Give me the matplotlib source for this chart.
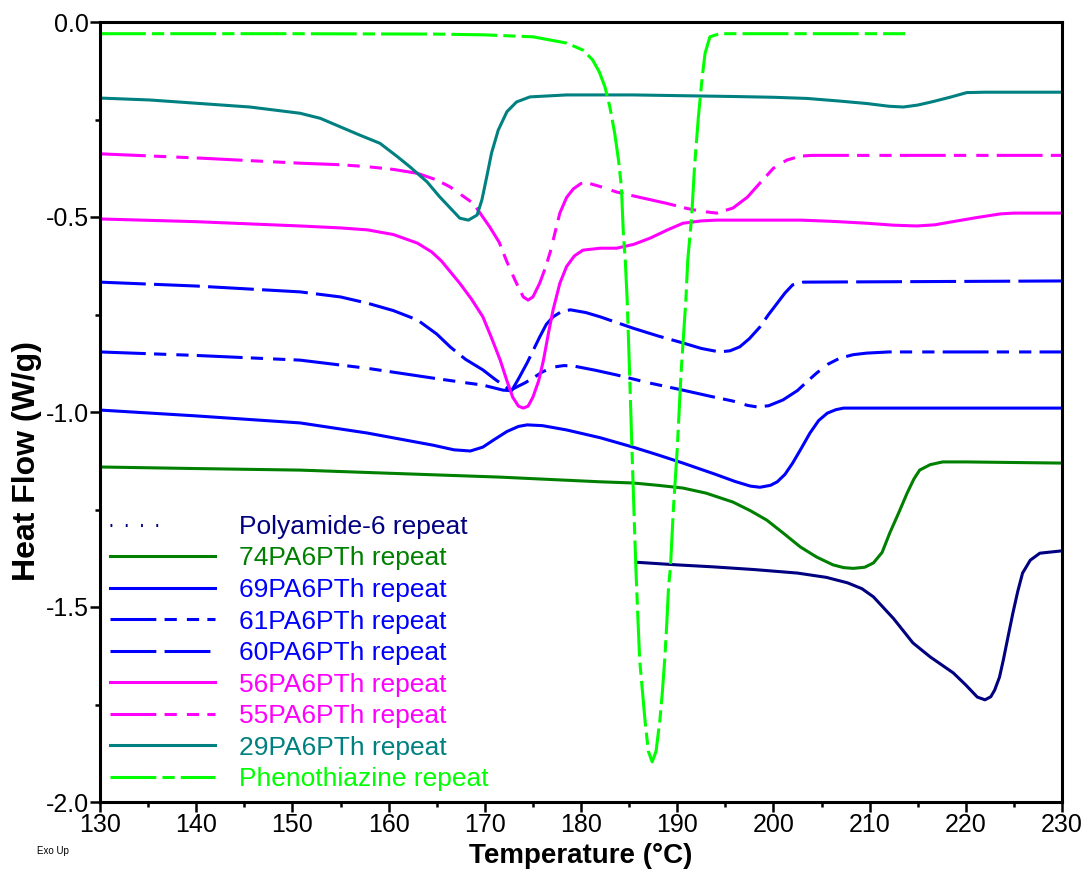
import numpy as np
import matplotlib
matplotlib.use('Agg')
import matplotlib.pyplot as plt
from matplotlib.lines import Line2D
from matplotlib.ticker import MultipleLocator, FormatStrFormatter

plt.rcParams['font.family'] = ['Liberation Sans', 'DejaVu Sans']
plt.rcParams['axes.unicode_minus'] = False

# DSC traces (temperature in C, heat flow in W/g)
pth_T = [130, 150, 165, 170, 175, 178.5, 180.2, 181.2, 181.9, 182.5, 183, 183.5, 183.9, 184.2,
         184.4, 184.6, 184.8, 185.05, 185.3, 185.5, 185.7, 185.9, 186.1, 186.4, 186.65, 187.0,
         187.4, 187.8, 188.2, 188.45, 188.7, 188.9, 189.1, 189.3, 189.6, 190.0, 190.4, 190.9,
         191.1, 191.5, 191.8, 192.2, 192.6, 192.9, 193.4, 194.4, 213.7]
pth_H = [-0.03, -0.03, -0.031, -0.033, -0.038, -0.054, -0.072, -0.097, -0.128, -0.167, -0.218,
         -0.285, -0.354, -0.423, -0.541, -0.61, -0.713, -0.9, -1.097, -1.25, -1.397, -1.52,
         -1.636, -1.72, -1.79, -1.87, -1.897, -1.87, -1.79, -1.72, -1.636, -1.55, -1.449,
         -1.397, -1.25, -1.097, -0.9, -0.713, -0.61, -0.5, -0.372, -0.244, -0.141, -0.08,
         -0.038, -0.03, -0.03]

t29_T = [130, 135.2, 140.4, 145.6, 150.8, 152.9, 154.9, 157.0, 159.1, 160.9, 162.2, 164.0,
         165.3, 166.6, 167.4, 168.3, 169.2, 169.7, 170.2, 170.7, 171.4, 172.3, 173.3, 174.7,
         178.5, 185.4, 195.8, 200, 203.5, 207, 209.7, 212, 213.5, 215, 216.6, 218.5, 220.1,
         222, 230]
t29_H = [-0.195, -0.2, -0.209, -0.218, -0.234, -0.247, -0.268, -0.29, -0.311, -0.345, -0.371,
         -0.41, -0.448, -0.482, -0.503, -0.508, -0.495, -0.456, -0.397, -0.336, -0.277, -0.23,
         -0.205, -0.192, -0.187, -0.187, -0.191, -0.193, -0.196, -0.203, -0.209, -0.216,
         -0.218, -0.213, -0.204, -0.192, -0.181, -0.18, -0.18]

t55_T = [130, 140.4, 150.8, 155, 157.8, 160.5, 163, 165, 166.4, 168.8, 170.5, 171.5, 172.3,
         173.2, 174.0, 174.5, 175.0, 175.7, 176.3, 176.8, 177.3, 177.8, 178.5, 179.2, 180.0,
         180.6, 182, 183.7, 186, 188.9, 191, 192.4, 194.1, 195.8, 197.3, 198.6, 200, 201.4,
         202.8, 204, 230]
t55_H = [-0.338, -0.349, -0.362, -0.366, -0.371, -0.378, -0.388, -0.405, -0.423, -0.465, -0.525,
         -0.565, -0.615, -0.665, -0.705, -0.713, -0.705, -0.67, -0.63, -0.59, -0.54, -0.49,
         -0.45, -0.428, -0.414, -0.412, -0.422, -0.436, -0.449, -0.465, -0.478, -0.485, -0.49,
         -0.477, -0.449, -0.413, -0.375, -0.354, -0.344, -0.342, -0.342]

t56_T = [130, 140, 150.8, 155, 157.8, 160.5, 163, 164.5, 165.5, 167.4, 168.6, 169.8, 170.7,
         171.6, 172.3, 172.9, 173.5, 174.0, 174.5, 175.0, 175.6, 176.1, 176.6, 177.1, 177.8,
         178.5, 179.3, 180.2, 182, 183.7, 185.5, 187.2, 189, 190.6, 192.5, 194.1, 202.8, 206,
         209.7, 212.5, 214.9, 216.8, 218.4, 221, 223.6, 225, 230]
t56_H = [-0.505, -0.512, -0.523, -0.528, -0.533, -0.545, -0.567, -0.59, -0.613, -0.67, -0.71,
         -0.756, -0.81, -0.867, -0.92, -0.962, -0.985, -0.99, -0.985, -0.962, -0.92, -0.867,
         -0.8, -0.738, -0.67, -0.627, -0.6, -0.585, -0.58, -0.58, -0.57, -0.554, -0.533,
         -0.516, -0.51, -0.508, -0.508, -0.511, -0.516, -0.521, -0.523, -0.52, -0.513, -0.502,
         -0.492, -0.49, -0.49]

t60_T = [130, 140, 150.8, 155, 157.8, 160.5, 163, 165, 166.4, 168, 169.8, 171, 172.3, 172.8,
         173.5, 174.4, 175.7, 176.4, 177.1, 178, 178.9, 180.5, 182, 185.4, 188, 190.6, 192.5,
         194.4, 195.5, 196.5, 197.5, 198.6, 199.5, 200.4, 201.2, 202, 203.1, 230]
t60_H = [-0.667, -0.677, -0.692, -0.705, -0.721, -0.74, -0.764, -0.8, -0.833, -0.865, -0.892,
         -0.915, -0.938, -0.945, -0.915, -0.874, -0.808, -0.775, -0.756, -0.742, -0.738, -0.745,
         -0.756, -0.785, -0.805, -0.823, -0.837, -0.846, -0.843, -0.833, -0.812, -0.782, -0.75,
         -0.721, -0.695, -0.674, -0.667, -0.664]

t61_T = [130, 140, 150.8, 157.8, 164.6, 168, 169.8, 171.9, 172.6, 173.3, 174.2, 175, 176, 177.1,
         178.2, 179.2, 181.5, 183.7, 187, 190.6, 193.5, 195.8, 197.3, 198.3, 199.5, 201, 202.5,
         203.5, 204.5, 205.7, 206.9, 208.3, 209.7, 212, 230]
t61_H = [-0.846, -0.855, -0.867, -0.888, -0.913, -0.925, -0.931, -0.944, -0.945, -0.936, -0.925,
         -0.913, -0.897, -0.885, -0.881, -0.882, -0.893, -0.905, -0.925, -0.944, -0.96, -0.972,
         -0.983, -0.987, -0.984, -0.969, -0.945, -0.922, -0.9, -0.877, -0.862, -0.853, -0.849,
         -0.846, -0.846]

t69_T = [130, 140, 150.8, 157.8, 164.6, 166.8, 168.5, 169.8, 170.9, 172.3, 173.5, 174.4, 176,
         178.5, 182, 185.4, 188, 190.6, 194, 196, 197.6, 198.6, 199.7, 200.4, 201.2, 202, 202.9,
         203.8, 204.7, 205.6, 206.5, 207.3, 230]
t69_H = [-0.995, -1.01, -1.028, -1.054, -1.085, -1.097, -1.1, -1.09, -1.072, -1.05, -1.037,
         -1.033, -1.035, -1.046, -1.066, -1.09, -1.11, -1.131, -1.16, -1.178, -1.19, -1.193,
         -1.188, -1.179, -1.16, -1.131, -1.093, -1.054, -1.022, -1.003, -0.994, -0.99, -0.99]

t74_T = [130, 140, 150.8, 160, 171.6, 182, 185.4, 188, 190.6, 193, 195.8, 197.6, 199.3, 201,
         202.8, 204.5, 206.2, 207.3, 208.3, 209.5, 210.4, 211.3, 212.1, 213, 213.9, 214.6,
         215.2, 216.3, 217.6, 220, 230]
t74_H = [-1.141, -1.145, -1.149, -1.157, -1.167, -1.179, -1.182, -1.188, -1.195, -1.208, -1.231,
         -1.253, -1.277, -1.31, -1.346, -1.372, -1.392, -1.399, -1.401, -1.398, -1.387, -1.36,
         -1.31, -1.26, -1.208, -1.172, -1.149, -1.135, -1.128, -1.128, -1.131]

pa6_T = [185.6, 190, 193.7, 198, 202.5, 205.5, 207.7, 209.2, 210.4, 212.5, 214.5, 216.3, 218.7,
         220, 221.2, 222.0, 222.6, 223.0, 223.5, 223.9, 224.4, 224.9, 225.4, 225.9, 226.7,
         227.7, 230]
pa6_H = [-1.385, -1.392, -1.397, -1.404, -1.413, -1.424, -1.438, -1.453, -1.474, -1.53, -1.592,
         -1.628, -1.669, -1.7, -1.731, -1.738, -1.73, -1.713, -1.68, -1.636, -1.575, -1.515,
         -1.46, -1.413, -1.38, -1.362, -1.356]

labels = ['Polyamide-6 repeat', '74PA6PTh repeat', '69PA6PTh repeat', '61PA6PTh repeat',
          '60PA6PTh repeat', '56PA6PTh repeat', '55PA6PTh repeat', '29PA6PTh repeat',
          'Phenothiazine repeat']
colors = ['#000080', '#008000', '#0000ff', '#0000ff', '#0000ff', '#ff00ff', '#ff00ff',
          '#008080', '#00ff00']

solid = '-'
dash_dot2 = (0, (15, 2.7, 4, 3.3, 4, 2.7))
long_dash = (0, (15, 2.7))
pth_dash = (0, (15, 2, 4, 2))
styles = [solid, solid, solid, dash_dot2, long_dash, solid, dash_dot2, solid, pth_dash]
legend_styles = [(0, (0.6, 4.4, 0.6, 4.4, 0.6, 4.4, 0.6, 40))] + styles[1:]

series = [(pa6_T, pa6_H), (t74_T, t74_H), (t69_T, t69_H), (t61_T, t61_H), (t60_T, t60_H),
          (t56_T, t56_H), (t55_T, t55_H), (t29_T, t29_H), (pth_T, pth_H)]

fig = plt.figure(figsize=(10.89, 8.69), dpi=100)
ax = fig.add_axes([100/1089, 1-802/869, 962/1089, 780/869])

lw = 2.2
for (T, H), c, ls in zip(series, colors, styles):
    ax.plot(T, H, color=c, lw=lw, linestyle=ls, solid_capstyle='butt', dash_capstyle='butt',
            solid_joinstyle='round')

ax.set_xlim(130, 230)
ax.set_ylim(-2.0, 0.0)
ax.xaxis.set_major_locator(MultipleLocator(10))
ax.xaxis.set_minor_locator(MultipleLocator(5))
ax.yaxis.set_major_locator(MultipleLocator(0.5))
ax.yaxis.set_minor_locator(MultipleLocator(0.25))
ax.yaxis.set_major_formatter(FormatStrFormatter('%.1f'))
ax.tick_params(which='major', length=7, width=1.8, labelsize=18, pad=1)
ax.tick_params(which='minor', length=3.5, width=1.8)
for s in ax.spines.values():
    s.set_linewidth(2.2)

ax.set_xlabel('Temperature (°C)', fontsize=20, fontweight='bold', va='top')
ax.xaxis.set_label_coords(0.5, -0.053)
ax.set_ylabel('Heat Flow (W/g)', fontsize=23, fontweight='bold', va='center')
ax.yaxis.set_label_coords(-0.076, 0.437)

handles = [Line2D([], [], color=c, lw=lw, linestyle=ls, dash_capstyle='butt')
           for c, ls in zip(colors, legend_styles)]
leg = ax.legend(handles, labels, loc='upper left', bbox_to_anchor=(0.01, 0.368), frameon=False,
                fontsize=19, handlelength=4.0, handletextpad=0.9, labelspacing=0.285,
                borderpad=0, borderaxespad=0)
for txt, c in zip(leg.get_texts(), colors):
    txt.set_color(c)

fig.text(37/1089, 1-851/869, 'Exo Up', fontsize=7, va='center')

fig.savefig('out.png', dpi=100)
